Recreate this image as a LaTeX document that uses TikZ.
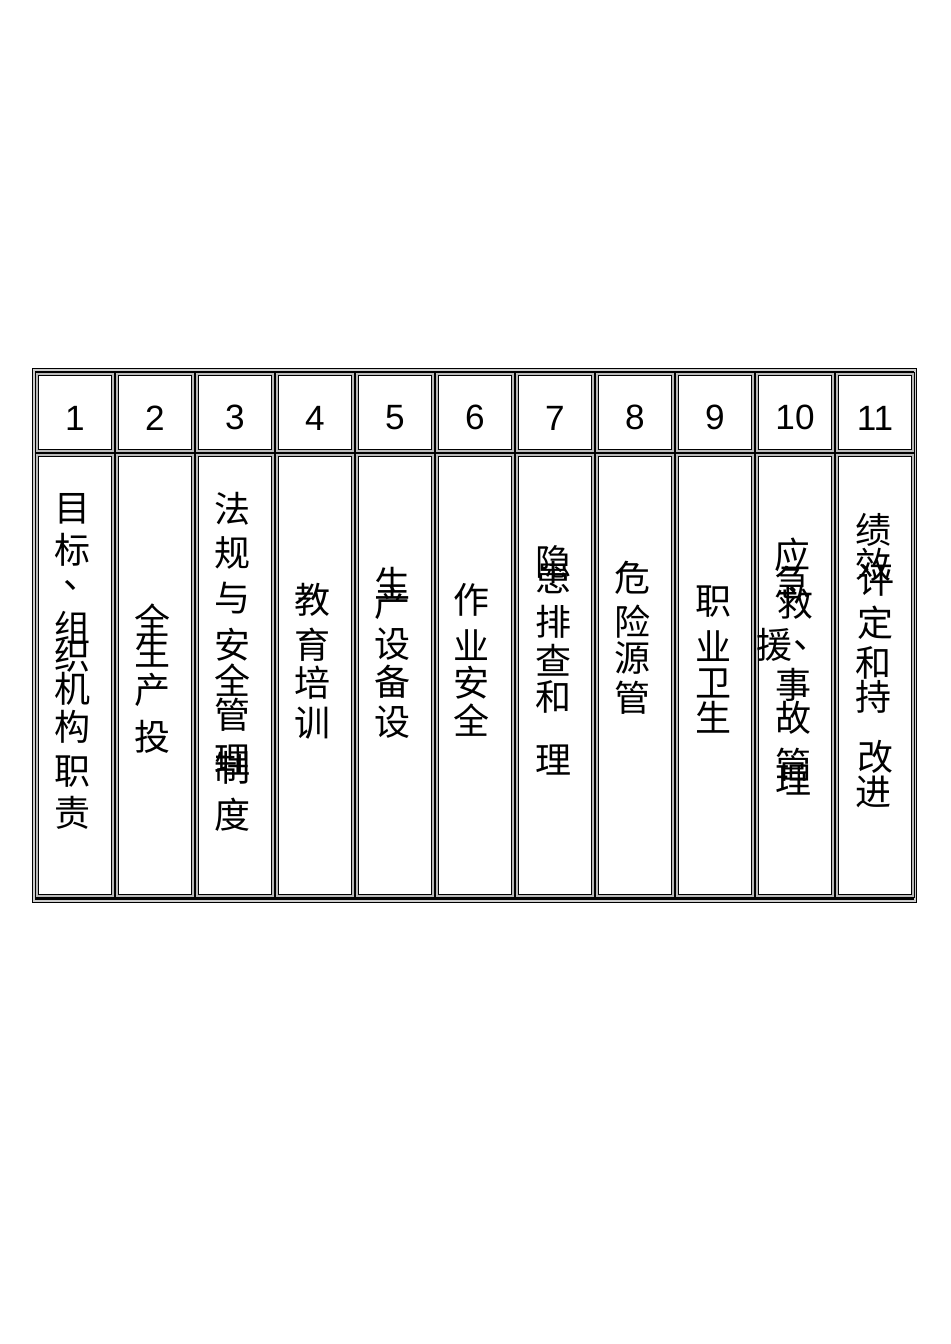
\documentclass[tikz,border=0pt]{standalone}
\usepackage{fontspec}
\setmainfont{Liberation Sans}
\newfontfamily\cjk{Noto Sans CJK SC}
\begin{document}
\begin{tikzpicture}
    [%%%%%%%%%%%%%%%%%%%%%%%%%%%%%%
        x=0.02cm, y=-0.02cm,
        frame/.style={draw=black, line width=0.5pt, double=gray!55, double distance=1pt},
        numbox/.style={rectangle, frame, inner sep=0pt, minimum width=1.52cm, minimum height=1.54cm,
            text height=20pt, font=\fontsize{20pt}{20pt}\selectfont},
        bodybox/.style={rectangle, frame, inner sep=0pt, minimum width=1.52cm, minimum height=8.82cm},
        outerbox/.style={rectangle, draw=black, line width=1pt, double=gray!40, double distance=1pt,
            inner sep=0pt, minimum width=17.61cm, minimum height=10.61cm},
        zi/.style={inner sep=0pt, font=\cjk\fontsize{20.5pt}{20.5pt}\selectfont},
    ]%%%%%%%%%%%%%%%%%%%%%%%%%%%%%%
    \useasboundingbox (0,0) rectangle (950,1344);
    \node[outerbox] (tab) at (474.5,635.5) {};

    \node[numbox] (n1) at (75,412.5) {1};
    \node[numbox] (n2) at (155,412.5) {2};
    \node[numbox] (n3) at (235,412.5) {3};
    \node[numbox] (n4) at (315,412.5) {4};
    \node[numbox] (n5) at (395,412.5) {5};
    \node[numbox] (n6) at (475,412.5) {6};
    \node[numbox] (n7) at (555,412.5) {7};
    \node[numbox] (n8) at (635,412.5) {8};
    \node[numbox] (n9) at (715,412.5) {9};
    \node[numbox] (n10) at (795,412.5) {10};
    \node[numbox] (n11) at (875,412.5) {11};

    \node[bodybox] (b1) at (75,675.5) {};
    \node[bodybox] (b2) at (155,675.5) {};
    \node[bodybox] (b3) at (235,675.5) {};
    \node[bodybox] (b4) at (315,675.5) {};
    \node[bodybox] (b5) at (395,675.5) {};
    \node[bodybox] (b6) at (475,675.5) {};
    \node[bodybox] (b7) at (555,675.5) {};
    \node[bodybox] (b8) at (635,675.5) {};
    \node[bodybox] (b9) at (715,675.5) {};
    \node[bodybox] (b10) at (795,675.5) {};
    \node[bodybox] (b11) at (875,675.5) {};

    % column 1
    \node[zi] (t1-1) at (73,509) {目};
    \node[zi] (t1-2) at (73,550) {标};
    \node[zi] (t1-3) at (82,585) {、};
    \node[zi] (t1-4) at (73,627) {组};
    \node[zi] (t1-5) at (73,656) {织};
    \node[zi] (t1-6) at (73,689) {机};
    \node[zi] (t1-7) at (73,727) {构};
    \node[zi] (t1-8) at (73,772) {职};
    \node[zi] (t1-9) at (73,813) {责};

    % column 2
    \node[zi] (t2-1) at (153,620) {全};
    \node[zi] (t2-2) at (153,651) {生};
    \node[zi] (t2-3) at (153,690) {产};
    \node[zi] (t2-4) at (153,737) {投};

    % column 3
    \node[zi] (t3-1) at (233,509) {法};
    \node[zi] (t3-2) at (233,553) {规};
    \node[zi] (t3-3) at (233,598) {与};
    \node[zi] (t3-4) at (233,645) {安};
    \node[zi] (t3-5) at (233,680) {全};
    \node[zi] (t3-6) at (233,715) {管};
    \node[zi] (t3-7) at (233,760) {理};
    \node[zi] (t3-8) at (233,768) {制};
    \node[zi] (t3-9) at (233,815) {度};

    % column 4
    \node[zi] (t4-1) at (313,600) {教};
    \node[zi] (t4-2) at (313,645) {育};
    \node[zi] (t4-3) at (313,683) {培};
    \node[zi] (t4-4) at (313,723) {训};

    % column 5
    \node[zi] (t5-1) at (393,583) {生};
    \node[zi] (t5-2) at (393,603) {产};
    \node[zi] (t5-3) at (393,644) {设};
    \node[zi] (t5-4) at (393,682) {备};
    \node[zi] (t5-5) at (393,722) {设};

    % column 6
    \node[zi] (t6-1) at (472,600) {作};
    \node[zi] (t6-2) at (472,645) {业};
    \node[zi] (t6-3) at (472,683) {安};
    \node[zi] (t6-4) at (472,720) {全};

    % column 7
    \node[zi] (t7-1) at (553,562) {隐};
    \node[zi] (t7-2) at (553,578) {患};
    \node[zi] (t7-3) at (553,622) {排};
    \node[zi] (t7-4) at (553,660) {查};
    \node[zi] (t7-5) at (553,697) {和};
    \node[zi] (t7-6) at (553,760) {理};

    % column 8
    \node[zi] (t8-1) at (632,578) {危};
    \node[zi] (t8-2) at (632,622) {险};
    \node[zi] (t8-3) at (632,658) {源};
    \node[zi] (t8-4) at (632,698) {管};

    % column 9
    \node[zi] (t9-1) at (713,602) {职};
    \node[zi] (t9-2) at (713,646) {业};
    \node[zi] (t9-3) at (713,683) {卫};
    \node[zi] (t9-4) at (713,717) {生};

    % column 10
    \node[zi] (t10-1) at (792,555) {应};
    \node[zi] (t10-2) at (792,582) {急};
    \node[zi] (t10-3) at (795,603) {救};
    \node[zi] (t10-4) at (774,645) {援};
    \node[zi] (t10-5) at (811,645) {、};
    \node[zi] (t10-6) at (793,685) {事};
    \node[zi] (t10-7) at (793,718) {故};
    \node[zi] (t10-8) at (793,765) {管};
    \node[zi] (t10-9) at (793,780) {理};

    % column 11
    \node[zi] (t11-1) at (873,530) {绩};
    \node[zi] (t11-2) at (873,565) {效};
    \node[zi] (t11-3) at (876,580) {评};
    \node[zi] (t11-4) at (875,623) {定};
    \node[zi] (t11-5) at (873,663) {和};
    \node[zi] (t11-6) at (873,697) {持};
    \node[zi] (t11-7) at (875,757) {改};
    \node[zi] (t11-8) at (873,792) {进};
\end{tikzpicture}
\end{document}
